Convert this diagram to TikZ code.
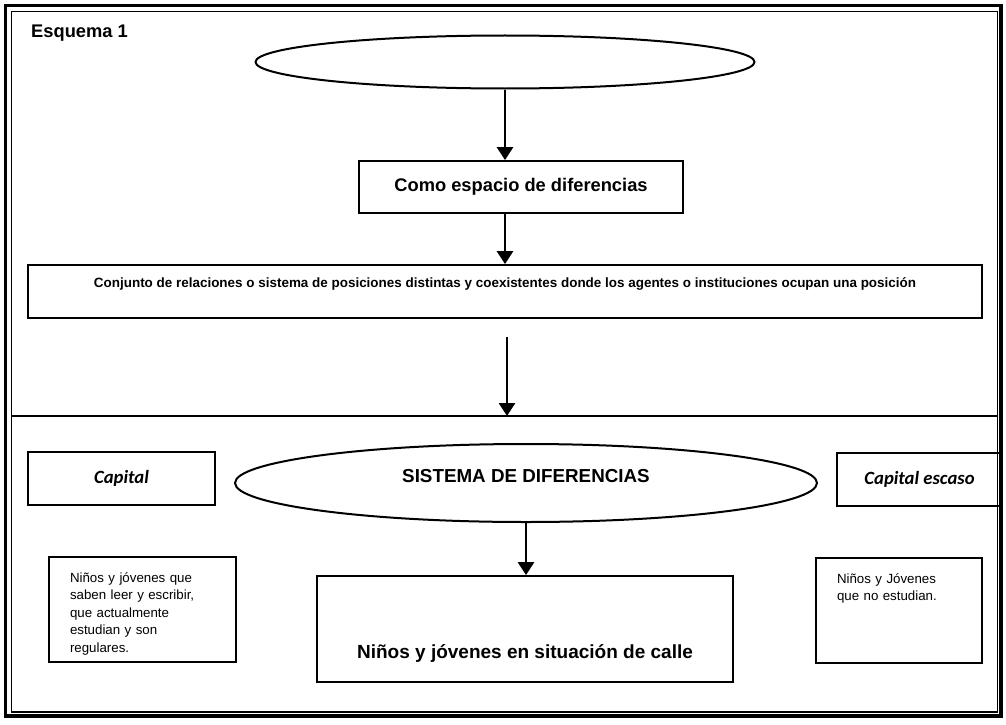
\documentclass[tikz,border=0pt]{standalone}
\usepackage{fontspec}
\setmainfont{Liberation Sans}
\newfontfamily\calfont{Carlito}
\usetikzlibrary{arrows.meta,shapes.geometric}
\begin{document}
\begin{tikzpicture}[x=1pt,y=-1pt,
  box/.style={draw=black, line width=1.8pt, inner sep=0pt, rectangle},
  oval/.style={draw=black, line width=2pt, ellipse, inner sep=0pt},
  arr/.style={line width=2.8pt, -{Triangle[length=13pt,width=16pt]}},
  bigbold/.style={font=\fontsize{18.3}{20}\selectfont\bfseries},
  capfont/.style={font=\calfont\fontsize{18.7}{20}\selectfont\bfseries\itshape},
  smalltext/.style={font=\fontsize{13.3}{17.5}\selectfont, align=left, inner xsep=21pt, inner ysep=0pt, text height=10pt, text depth=65pt},
]
\useasboundingbox (0,0) rectangle (1006,725);
\fill[white] (0,0) rectangle (1006,725);
% frames
\draw[line width=3.2pt] (5.5,5.5) rectangle (1001,716);
\draw[line width=1.4pt] (11.5,11.5) rectangle (997.5,712);
\coordinate (divL) at (11.5,416);
\coordinate (divR) at (997.5,416);
\draw[line width=1.8pt] (divL) -- (divR);

\node[anchor=west, inner sep=0pt, font=\fontsize{18.3}{20}\selectfont\bfseries] (title) at (31,33) {Esquema 1};

% upper part
\node[oval, minimum width=499pt, minimum height=53pt] (e1) at (505,62) {};
\node[box, minimum width=324pt, minimum height=52pt, bigbold] (como) at (521,187) {Como espacio de diferencias};
\node[box, minimum width=954pt, minimum height=53pt, font=\fontsize{13.45}{15}\selectfont\bfseries, text height=10pt, text depth=18pt] (rel) at (505,291.5) {Conjunto de relaciones o sistema de posiciones distintas y coexistentes donde los agentes o instituciones ocupan una posición};
\coordinate (a3) at (507,337);
\draw[arr] (e1.south) -- (e1.south |- como.north);
\draw[arr] (e1.south |- como.south) -- (e1.south |- rel.north);
\draw[arr] (a3) -- (a3 |- divL);

% lower part
\node[oval, minimum width=582pt, minimum height=78pt, font=\fontsize{18.8}{20}\selectfont\bfseries, text height=13.5pt, text depth=14pt] (e2) at (526,483) {SISTEMA DE DIFERENCIAS};
\node[box, minimum width=187pt, minimum height=53pt, capfont] (cap) at (121.5,478.5) {Capital};
\node[box, minimum width=165pt, minimum height=53pt, capfont] (capesc) at (919.5,479.5) {Capital escaso};
\node[box, minimum width=416pt, minimum height=106pt, font=\fontsize{19}{20}\selectfont\bfseries, text height=63pt, text depth=3.8pt] (calle) at (525,629) {Niños y jóvenes en situación de calle};
\node[box, smalltext, text width=145pt, minimum height=105pt] (left) at (142.5,609.5) {Niños y jóvenes que\\saben leer y escribir,\\que actualmente\\estudian y son\\regulares.};
\node[box, smalltext, text width=124pt, minimum height=105pt, font=\fontsize{13.3}{17}\selectfont] (right) at (899,610.5) {Niños y Jóvenes\\que no estudian.};
\draw[arr] (e2.south) -- (e2.south |- calle.north);
\end{tikzpicture}
\end{document}
